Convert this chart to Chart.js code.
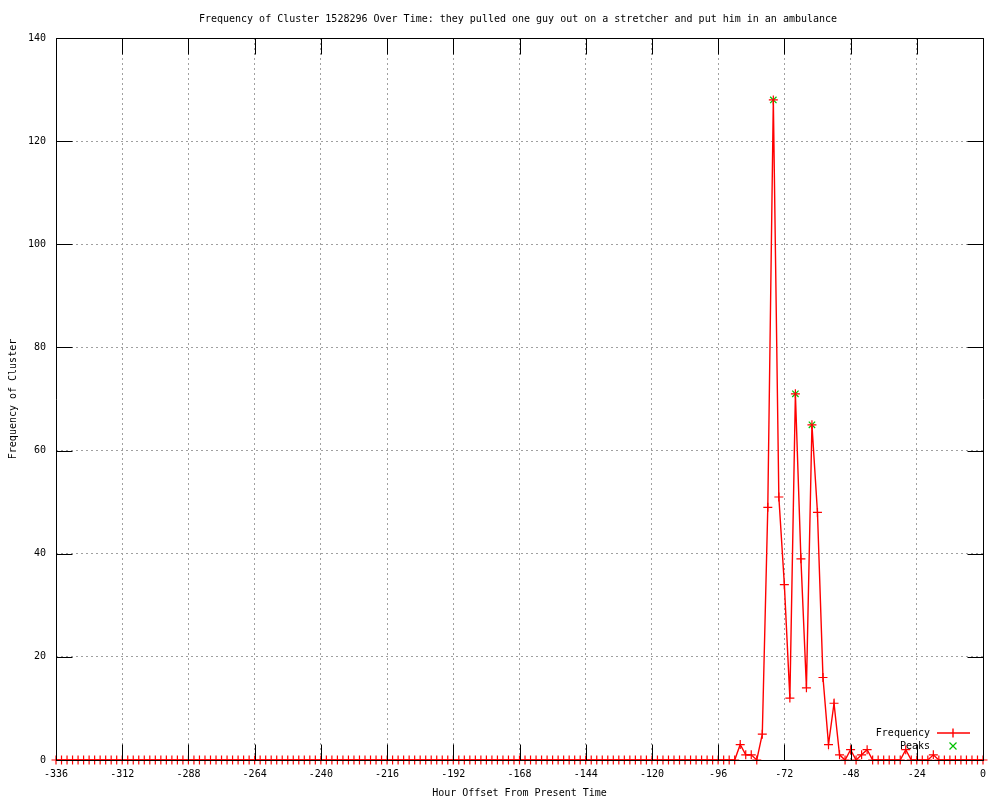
<!DOCTYPE html>
<html>
<head>
<meta charset="utf-8">
<title>Frequency of Cluster 1528296 Over Time</title>
<script src="https://cdn.jsdelivr.net/npm/chart.js@4/dist/chart.umd.min.js"></script>
<style>
    html, body { margin: 0; padding: 0; background: #fff; }
    canvas { display: block; }
</style>
</head>
<body>
<canvas id="freqChart" width="1000" height="800"></canvas>
<script>
// Horas relativas (cada 2 horas)
const hours = [
    -336, -334, -332, -330, -328, -326, -324, -322, -320, -318, -316, -314,
    -312, -310, -308, -306, -304, -302, -300, -298, -296, -294, -292, -290,
    -288, -286, -284, -282, -280, -278, -276, -274, -272, -270, -268, -266,
    -264, -262, -260, -258, -256, -254, -252, -250, -248, -246, -244, -242,
    -240, -238, -236, -234, -232, -230, -228, -226, -224, -222, -220, -218,
    -216, -214, -212, -210, -208, -206, -204, -202, -200, -198, -196, -194,
    -192, -190, -188, -186, -184, -182, -180, -178, -176, -174, -172, -170,
    -168, -166, -164, -162, -160, -158, -156, -154, -152, -150, -148, -146,
    -144, -142, -140, -138, -136, -134, -132, -130, -128, -126, -124, -122,
    -120, -118, -116, -114, -112, -110, -108, -106, -104, -102, -100, -98,
    -96, -94, -92, -90, -88, -86, -84, -82, -80, -78, -76, -74,
    -72, -70, -68, -66, -64, -62, -60, -58, -56, -54, -52, -50,
    -48, -46, -44, -42, -40, -38, -36, -34, -32, -30, -28, -26,
    -24, -22, -20, -18, -16, -14, -12, -10, -8, -6, -4, -2,
    0
];

const frequency = [
    0, 0, 0, 0, 0, 0, 0, 0, 0, 0, 0, 0,
    0, 0, 0, 0, 0, 0, 0, 0, 0, 0, 0, 0,
    0, 0, 0, 0, 0, 0, 0, 0, 0, 0, 0, 0,
    0, 0, 0, 0, 0, 0, 0, 0, 0, 0, 0, 0,
    0, 0, 0, 0, 0, 0, 0, 0, 0, 0, 0, 0,
    0, 0, 0, 0, 0, 0, 0, 0, 0, 0, 0, 0,
    0, 0, 0, 0, 0, 0, 0, 0, 0, 0, 0, 0,
    0, 0, 0, 0, 0, 0, 0, 0, 0, 0, 0, 0,
    0, 0, 0, 0, 0, 0, 0, 0, 0, 0, 0, 0,
    0, 0, 0, 0, 0, 0, 0, 0, 0, 0, 0, 0,
    0, 0, 0, 0, 3, 1, 1, 0, 5, 49, 128, 51,
    34, 12, 71, 39, 14, 65, 48, 16, 3, 11, 1, 0,
    2, 0, 1, 2, 0, 0, 0, 0, 0, 0, 2, 0,
    0, 0, 0, 1, 0, 0, 0, 0, 0, 0, 0, 0,
    0
];

// Picos
const peakHours = [-76, -68, -62];
const peakValues = [128, 71, 65];

// Etiquetas
const titleText = 'Frequency of Cluster 1528296 Over Time: they pulled one guy out on a stretcher and put him in an ambulance';
const xTitle = 'Hour Offset From Present Time';
const yTitle = 'Frequency of Cluster';
const seriesNames = ['Frequency', 'Peaks'];

const FONT = 'DejaVu Sans Mono';

// Título centrado como en gnuplot
const titlePlugin = {
    id: 'gpTitle',
    beforeDraw(chart) {
        const ctx = chart.ctx;
        ctx.save();
        ctx.font = '10px "' + FONT + '"';
        ctx.fillStyle = '#000';
        ctx.textAlign = 'center';
        ctx.textBaseline = 'middle';
        ctx.fillText(titleText, 518, 19);
        ctx.restore();
    }
};

// Marco, marcas hacia dentro y leyenda
const framePlugin = {
    id: 'frame',
    afterDatasetsDraw(chart) {
        const ctx = chart.ctx;
        const a = chart.chartArea;
        const xs = chart.scales.x;
        const ys = chart.scales.y;
        const L = Math.round(a.left) + 0.5, R = Math.round(a.right) + 0.5;
        const T = Math.round(a.top) + 0.5, B = Math.round(a.bottom) + 0.5;
        const len = 16;

        ctx.save();
        ctx.strokeStyle = '#000';
        ctx.lineWidth = 1;
        ctx.setLineDash([]);
        ctx.beginPath();
        ctx.rect(L, T, R - L, B - T);

        xs.ticks.forEach(t => {
            const px = Math.round(xs.getPixelForValue(t.value)) + 0.5;
            ctx.moveTo(px, B); ctx.lineTo(px, B - len);
            ctx.moveTo(px, T); ctx.lineTo(px, T + len);
        });
        ys.ticks.forEach(t => {
            const py = Math.round(ys.getPixelForValue(t.value)) + 0.5;
            ctx.moveTo(L, py); ctx.lineTo(L + len, py);
            ctx.moveTo(R, py); ctx.lineTo(R - len, py);
        });
        ctx.stroke();

        // Leyenda
        ctx.font = '10px "' + FONT + '"';
        ctx.fillStyle = '#000';
        ctx.textAlign = 'right';
        ctx.textBaseline = 'middle';
        const textX = 930, sx1 = 937, sx2 = 970, cx = 953;
        const y1 = 733, y2 = 746;
        ctx.fillText(seriesNames[0], textX, y1);
        ctx.fillText(seriesNames[1], textX, y2);

        ctx.strokeStyle = '#ff0000';
        ctx.lineWidth = 1.4;
        ctx.beginPath();
        ctx.moveTo(sx1, y1); ctx.lineTo(sx2, y1);
        ctx.moveTo(cx, y1 - 4.5); ctx.lineTo(cx, y1 + 4.5);
        ctx.stroke();

        ctx.strokeStyle = '#00c000';
        ctx.lineWidth = 1.2;
        ctx.beginPath();
        ctx.moveTo(cx - 3.5, y2 - 3.5); ctx.lineTo(cx + 3.5, y2 + 3.5);
        ctx.moveTo(cx + 3.5, y2 - 3.5); ctx.lineTo(cx - 3.5, y2 + 3.5);
        ctx.stroke();
        ctx.restore();
    }
};

const ctx = document.getElementById('freqChart').getContext('2d');

new Chart(ctx, {
    type: 'line',
    data: {
        datasets: [
            {
                label: seriesNames[0],
                data: hours.map((h, i) => ({ x: h, y: frequency[i] })),
                borderColor: '#ff0000',
                backgroundColor: '#ff0000',
                borderWidth: 1.4,
                tension: 0,
                pointStyle: 'cross',
                pointRadius: 4.5,
                pointBorderWidth: 1.2,
                pointBorderColor: '#ff0000',
                clip: false
            },
            {
                label: seriesNames[1],
                data: peakHours.map((h, i) => ({ x: h, y: peakValues[i] })),
                showLine: false,
                borderColor: '#00c000',
                backgroundColor: '#00c000',
                pointStyle: 'crossRot',
                pointRadius: 4.5,
                pointBorderWidth: 1.2,
                clip: false
            }
        ]
    },
    options: {
        responsive: false,
        animation: false,
        layout: { padding: { left: 0, right: 17, top: 38, bottom: 0 } },
        plugins: {
            legend: { display: false },
            tooltip: { enabled: false },
            title: { display: false }
        },
        scales: {
            x: {
                type: 'linear',
                min: -336,
                max: 0,
                afterFit: s => { s.height = 40; },
                ticks: {
                    stepSize: 24,
                    autoSkip: false,
                    maxRotation: 0,
                    padding: 8,
                    color: '#000',
                    font: { family: FONT, size: 10 },
                    callback: v => String(v)
                },
                grid: { color: '#a0a0a0', drawTicks: false },
                border: { display: false, dash: [2, 3] },
                title: {
                    display: true,
                    text: xTitle,
                    color: '#000',
                    font: { family: FONT, size: 10 },
                    padding: { top: 0, bottom: 1 }
                }
            },
            y: {
                min: 0,
                max: 140,
                afterFit: s => { s.width = 56; },
                ticks: {
                    stepSize: 20,
                    padding: 10,
                    color: '#000',
                    font: { family: FONT, size: 10 }
                },
                grid: { color: '#a0a0a0', drawTicks: false },
                border: { display: false, dash: [2, 3] },
                title: {
                    display: true,
                    text: yTitle,
                    color: '#000',
                    font: { family: FONT, size: 10 },
                    padding: { top: 7, bottom: 0 }
                }
            }
        }
    },
    plugins: [titlePlugin, framePlugin]
});
</script>
</body>
</html>
